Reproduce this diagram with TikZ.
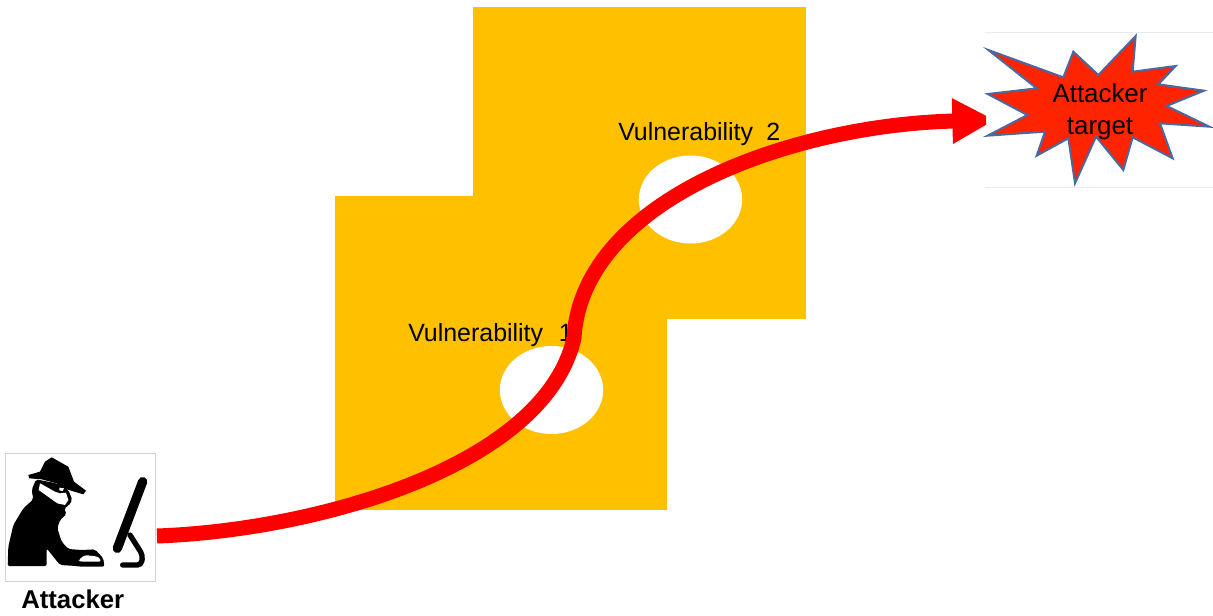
\documentclass[tikz,border=0pt]{standalone}
\usepackage{fontspec}
\setmainfont{Liberation Sans}
\usetikzlibrary{arrows.meta, shapes.geometric, positioning}

\definecolor{wallorange}{HTML}{FFC000}
\definecolor{starred}{HTML}{FE2400}
\definecolor{starblue}{HTML}{4A6A9F}

\tikzset{
	wall/.style={rectangle,fill=wallorange,inner sep=0pt},
	hole/.style={ellipse,fill=white,inner sep=0pt,minimum width=77.5pt,minimum height=66pt},
	vuln/.style={anchor=base west,inner sep=0pt,font=\fontsize{18.7}{22}\selectfont},
	attackpath/.style={draw=red,line width=11.25pt,-{Triangle[length=32pt,width=32pt]}}
}

\begin{document}
\begin{tikzpicture}[x=0.75pt,y=-0.75pt]
	\useasboundingbox (0,0) rectangle (1213,615);

	\node[wall,minimum width=249.75pt,minimum height=234pt] (wall2) at (639.5,163) {};
	\node[wall,minimum width=249pt,minimum height=235.5pt] (wall1) at (501,353) {};

	\node[hole] (hole1) at (551.5,390) {};
	\node[hole] (hole2) at (690.5,199.5) {};

	\node[vuln] (vuln1) at (408,341) {Vulnerability\hspace{0.35em} 1};
	\node[vuln] (vuln2) at (618,140) {Vulnerability\hspace{0.25em} 2};

	\node[rectangle,draw=black!18,line width=0.6pt,fill=white,minimum width=113pt,minimum height=96pt,inner sep=0pt] (attackerbox) at (80.5,517) {};

	\begin{scope}[shift={(0,440)},x=0.25pt,y=-0.25pt]
		\fill[black] (85,105) -- (120,95) -- (135,65) -- (155,52) -- (205,80) -- (222,125) -- (258,152) -- (250,163) -- (190,145) -- (170,130) -- (125,118) -- (88,115) -- cycle;
		\fill[black,rounded corners=1.5pt] (23,378) -- (25,320) -- (40,255) -- (70,205) -- (100,178) -- (95,150) -- (108,118) -- (170,130) -- (205,150) -- (217,180) -- (205,198) -- (192,205) -- (200,222) -- (180,240) -- (172,265) -- (185,305) -- (205,327) -- (245,330) -- (285,328) -- (310,355) -- (313,380) -- (240,380) -- (230,378) -- (180,375) -- (160,350) -- (140,325) -- (140,378) -- cycle;
		\fill[white] (120,130) -- (165,155) -- (180,160) -- (198,158) -- (205,180) -- (195,195) -- (172,190) -- (116,150) -- cycle;
		\fill[white] (178,143) -- (192,145) -- (188,153) -- (178,151) -- cycle;
		\fill[white,rounded corners=2pt] (235,360) -- (255,345) -- (295,350) -- (305,365) -- (240,365) -- cycle;
		\draw[black,line width=7pt,line cap=round] (428,125) -- (352,325);
		\draw[black,line width=4pt,line cap=round,rounded corners=3pt] (390,285) -- (428,345) -- (424,375) -- (368,375);
	\end{scope}

	\node[anchor=base west,inner sep=0pt,font=\bfseries\fontsize{19.3}{22}\selectfont] (attacker) at (21,608) {Attacker};

	\coordinate (pathstart) at (157,536);
	\coordinate (pathmid) at (574,338);
	\coordinate (pathend) at (995,120);
	\begin{scope}
		\clip (0,0) rectangle (986,615);
		\draw[attackpath] (pathstart) .. controls (320,530) and (545,465) .. (pathmid) .. controls (582,200) and (790,125) .. (pathend);
	\end{scope}

	\draw[black!8,line width=0.6pt] (985,32) -- (1213,32);
	\draw[black!8,line width=0.6pt] (985,187) -- (1213,187);

	\begin{scope}[shift={(940,20)},x=0.25pt,y=-0.25pt]
		\draw[fill=starred,draw=starblue,line width=1.5pt,line join=miter,miter limit=20]
			(145,90) -- (370,172) -- (400,95) -- (475,165) -- (587,48) -- (578,155) -- (707,138) -- (655,193) -- (792,212) -- (680,258) -- (808,320) -- (660,310) -- (698,415) -- (578,352) -- (550,450) -- (468,350) -- (405,490) -- (385,355) -- (290,407) -- (315,335) -- (143,347) -- (262,285) -- (143,222) -- (290,205) -- cycle;
	\end{scope}

	\node[inner sep=0pt,align=center,font=\fontsize{19.4}{24}\selectfont] (target) at (1100,112) {Attacker\\target};
\end{tikzpicture}
\end{document}
